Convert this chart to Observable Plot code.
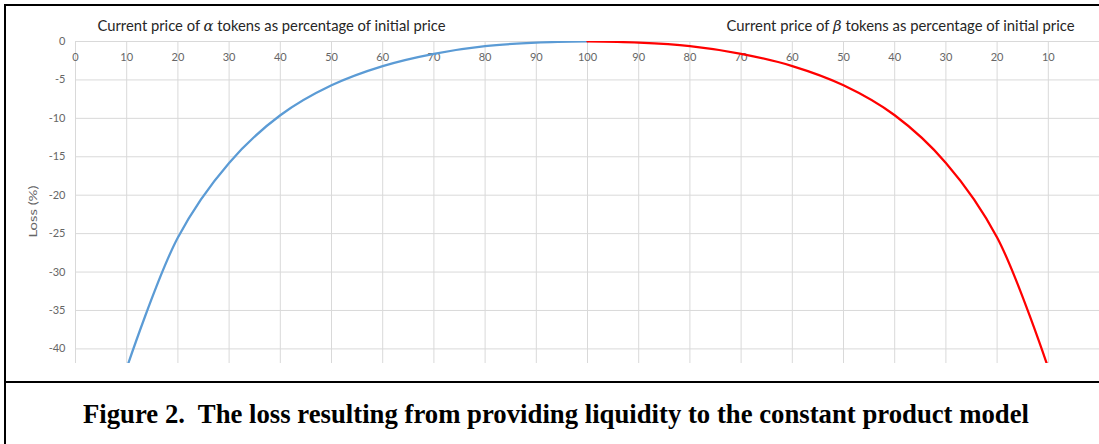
<!DOCTYPE html>
<html>
<head>
<meta charset="utf-8">
<script src="https://cdn.jsdelivr.net/npm/d3@7"></script>
<script src="https://cdn.jsdelivr.net/npm/@observablehq/plot@0.6"></script>
<style>
  html, body { margin: 0; padding: 0; background: #fff; }
  body { width: 1099px; height: 444px; position: relative; overflow: hidden; font-family: Lato, sans-serif; }
  #chart { position: absolute; left: 0; top: 0; }
  #frame { position: absolute; left: 4px; top: 4px; width: 1100px; height: 375px;
           border-top: 2px solid #000; border-left: 2px solid #000; border-bottom: 2px solid #000; pointer-events: none; }
  #frame2 { position: absolute; left: 4px; top: 383px; height: 61px; border-left: 2px solid #000; pointer-events: none; }
  #caption { position: absolute; left: 83px; top: 401px; font: bold 27px/27px "Liberation Serif", "Times New Roman", serif;
             white-space: pre; transform-origin: 0 0; color: #000; }
</style>
</head>
<body>
<div id="chart"></div>
<div id="frame"></div>
<div id="frame2"></div>
<div id="caption"></div>
<script>
// ---- data ----
const xLabels = ["0","10","20","30","40","50","60","70","80","90","100","90","80","70","60","50","40","30","20","10"];
const alphaPrice = [10, 20, 30, 40, 50, 60, 70, 80, 90, 100];
const alphaLoss  = [-42.5, -25.5, -15.8, -9.6, -5.7, -3.2, -1.6, -0.6, -0.15, 0];
const betaPrice  = [100, 90, 80, 70, 60, 50, 40, 30, 20, 10];
const betaLoss   = [0, -0.15, -0.6, -1.6, -3.2, -5.7, -9.6, -15.8, -25.5, -42.5];
const yTicks = [0, -5, -10, -15, -20, -25, -30, -35, -40];
const titleAlpha = "Current price of α tokens as percentage of initial price";
const titleBeta  = "Current price of β tokens as percentage of initial price";
const yLabel = "Loss (%)";
const captionText = "Figure 2.  The loss resulting from providing liquidity to the constant product model";

// positions along the category axis (0..100 then back down to 10)
const alpha = alphaPrice.map((p, i) => ({pos: p / 10, loss: alphaLoss[i]}));
const beta  = betaPrice.map((p, i) => ({pos: 20 - p / 10, loss: betaLoss[i]}));
const xTickData = xLabels.map((label, i) => ({pos: i, label}));

const grey = "#d9d9d9";
const tickColor = "#666666";

const plot = Plot.plot({
  width: 1099,
  height: 382,
  marginLeft: 75,
  marginRight: 0,
  marginTop: 41,
  marginBottom: 19,
  style: {fontFamily: "Lato, sans-serif", background: "transparent"},
  x: {domain: [0, 20], axis: null},
  y: {domain: [-41.9, 0], axis: null},
  marks: [
    Plot.gridX(xTickData.map(d => d.pos), {stroke: grey, strokeOpacity: 1, strokeWidth: 1}),
    Plot.gridY(yTicks, {stroke: grey, strokeOpacity: 1, strokeWidth: 1}),
    Plot.axisY(yTicks, {tickSize: 0, tickPadding: 10, tickFormat: d => String(d), fontSize: 11, fill: tickColor, label: null}),
    Plot.text(xTickData, {x: "pos", y: () => 0, text: "label", dy: 16, fontSize: 11, fill: tickColor}),
    Plot.line(alpha, {x: "pos", y: "loss", stroke: "#5b9bd5", strokeWidth: 2.25, curve: "catmull-rom", clip: true}),
    Plot.line(beta, {x: "pos", y: "loss", stroke: "#ff0000", strokeWidth: 2.25, curve: "catmull-rom", clip: true}),
    Plot.text([titleAlpha], {frameAnchor: "top-left", dx: 22, dy: -21, textAnchor: "start", fontSize: 14.67, fill: "#262626"}),
    Plot.text([titleBeta], {frameAnchor: "top-right", dx: -25, dy: -21, textAnchor: "end", fontSize: 14.67, fill: "#262626"}),
    Plot.text([yLabel], {frameAnchor: "left", rotate: -90, dx: -42, dy: 35, fontSize: 12, fill: tickColor})
  ]
});
document.getElementById("chart").appendChild(plot);

// italic Greek letters and exact text widths
const svg = d3.select(plot);
svg.selectAll("text").each(function () {
  const t = d3.select(this);
  const s = this.textContent;
  if (s === titleAlpha || s === titleBeta) {
    const greek = s === titleAlpha ? "α" : "β";
    const [a, b] = s.split(greek);
    t.text(null);
    t.append("tspan").text(a);
    t.append("tspan").attr("font-style", "italic").attr("font-family", "DejaVu Serif, serif").text(greek);
    t.append("tspan").text(b);
    t.attr("textLength", 348).attr("lengthAdjust", "spacingAndGlyphs");
  } else if (s === yLabel) {
    t.attr("textLength", 52).attr("lengthAdjust", "spacingAndGlyphs");
  }
});

const cap = document.getElementById("caption");
cap.textContent = captionText;
function fitCaption() {
  cap.style.transform = "none";
  const w = cap.getBoundingClientRect().width;
  cap.style.transform = `scaleX(${946 / w})`;
}
fitCaption();
if (document.fonts && document.fonts.ready) document.fonts.ready.then(fitCaption);
</script>
</body>
</html>
